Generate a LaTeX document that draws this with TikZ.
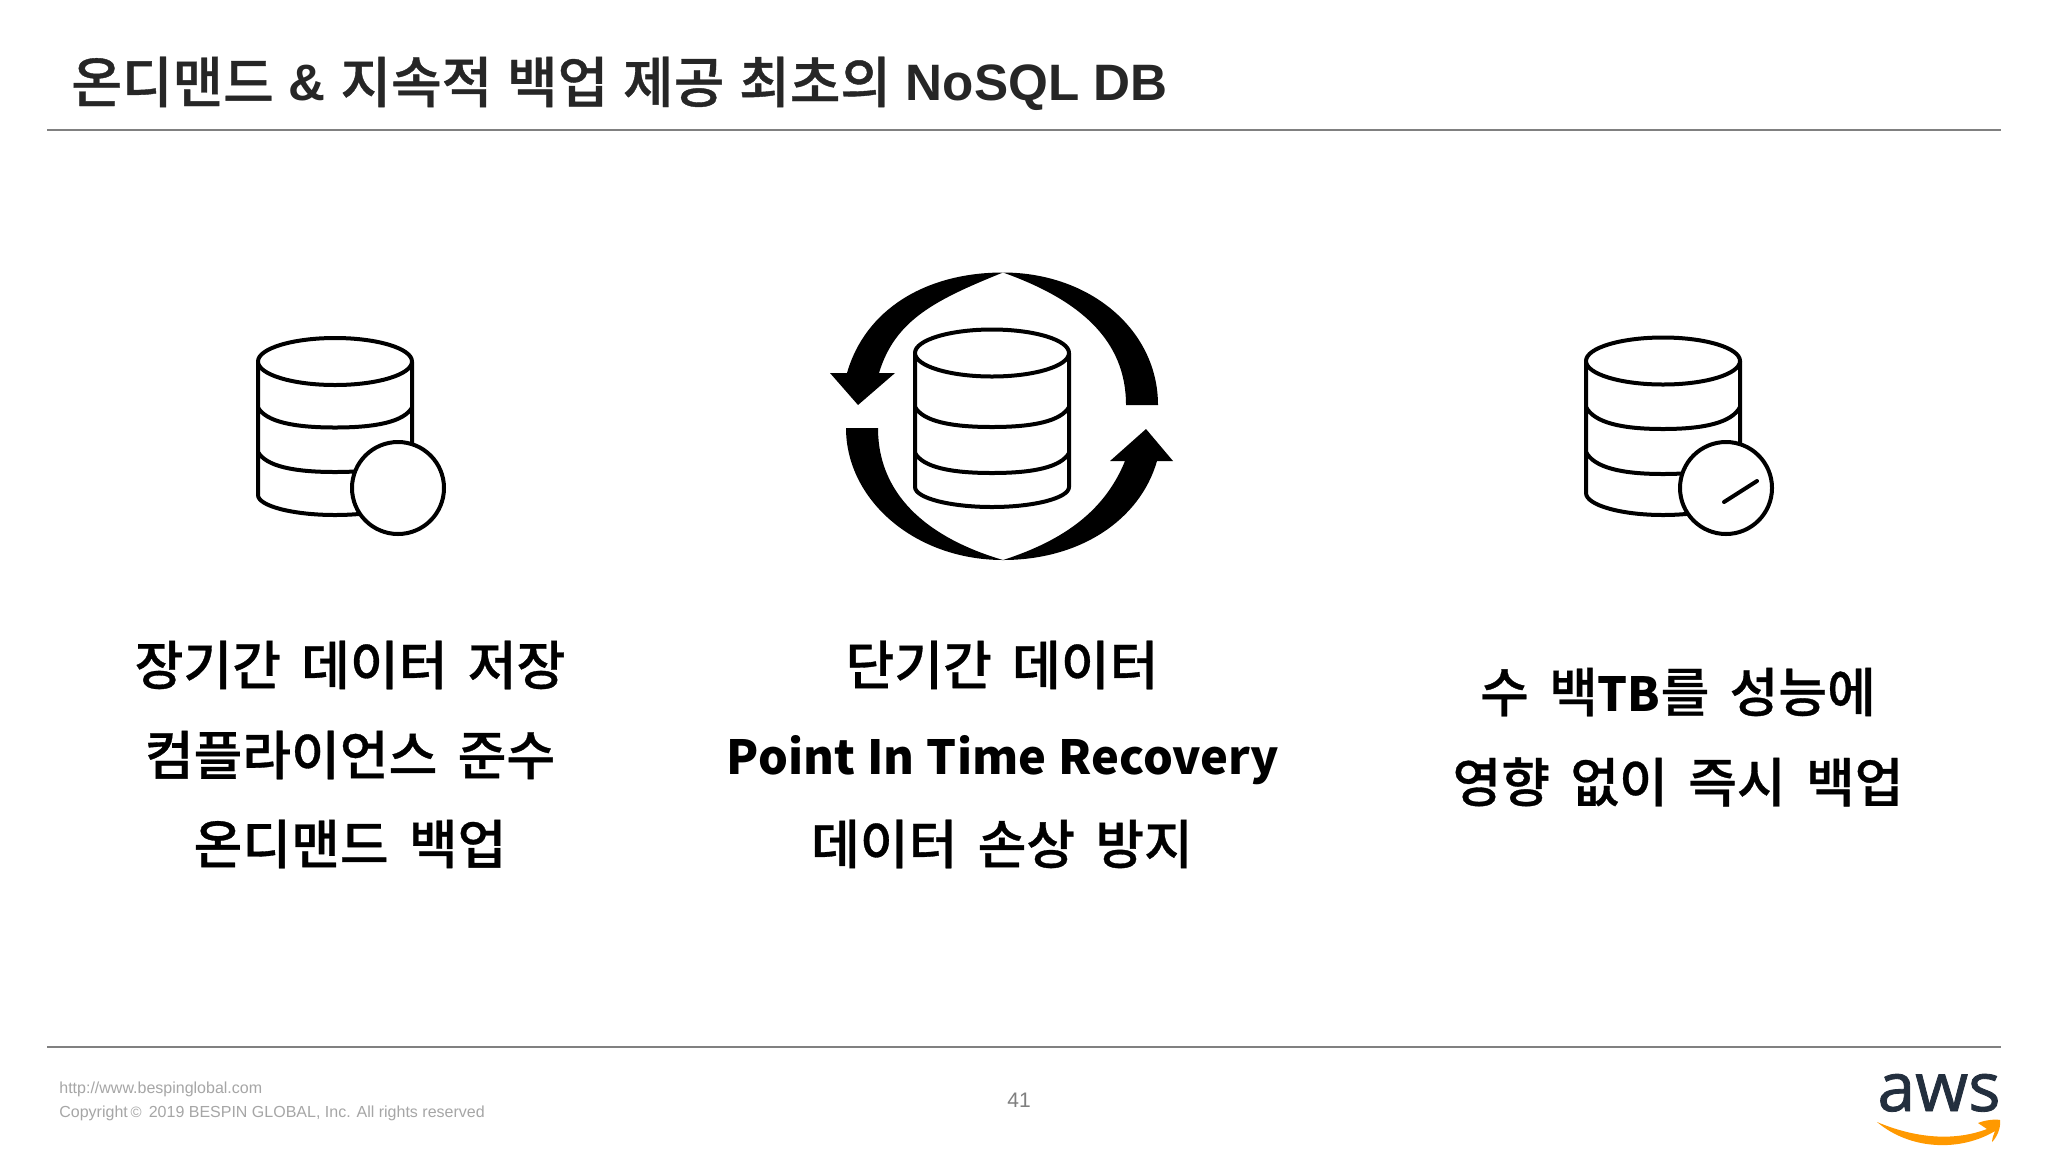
\documentclass[tikz,border=0pt]{standalone}
\usepackage{fontspec}
\setmainfont{Liberation Sans}
\newfontfamily\kr[WordSpace=1.7,FakeBold=0.6]{Noto Sans CJK KR Medium}
\newfontfamily\krb[WordSpace=1.15]{Noto Sans CJK KR}
\newfontfamily\krt[WordSpace=1.2,FakeBold=0.7]{Noto Sans CJK KR Medium}
\newfontfamily\logofont[FakeBold=1.2]{Open Sans}
\definecolor{titleink}{HTML}{262626}
\definecolor{rulegray}{HTML}{808080}
\definecolor{footgray}{HTML}{A6A6A6}
\definecolor{numgray}{HTML}{7F7F7F}
\definecolor{awsink}{HTML}{232F3E}
\definecolor{awsorange}{HTML}{FF9900}
\tikzset{
  rulef/.style={draw=rulegray,line width=0.8pt},
  iconline/.style={draw=black,line width=2pt,line join=round},
  bodytext/.style={font=\kr\fontsize{26.5}{30}\selectfont,anchor=center,inner sep=0pt,text=black},
  foot/.style={font=\fontsize{8.0}{10}\selectfont,anchor=base west,inner sep=0pt,text=footgray},
  solidblack/.style={fill=black,draw=none}
}
\newcommand{\DbBody}[6]{%
  % left x, ellipse centre y, band1 end, band2 end, base end, sag
  \begin{scope}[shift={(#1,#2)}]
    \draw[iconline] (0,0) -- (0,#5) .. controls (0,#5+0.55*#6) and (35,#5+#6) .. (77,#5+#6)
      .. controls (119,#5+#6) and (154,#5+0.55*#6) .. (154,#5) -- (154,0);
    \foreach \e in {#3,#4}{
      \draw[iconline] (0,\e) .. controls (8,\e+0.7*#6) and (35,\e+#6) .. (77,\e+#6)
        .. controls (119,\e+#6) and (146,\e+0.7*#6) .. (154,\e);
    }
    \draw[iconline,fill=white] (77,0) ellipse [x radius=77,y radius=23.5];
  \end{scope}}
\newcommand{\lat}[1]{{\krb\bfseries\fontsize{23.5}{30}\selectfont #1}}
\newcommand{\tlat}[1]{\raisebox{1.1pt}{\rmfamily\bfseries\fontsize{25.6}{30}\selectfont #1}}
\begin{document}
\begin{tikzpicture}[x=0.5pt,y=-0.5pt]
\useasboundingbox (0,0) rectangle (2048,1152);
\fill[white] (0,0) rectangle (2048,1152);
% title
\node[anchor=base west,inner sep=0pt,text=titleink,font=\krt\fontsize{27.5}{30}\selectfont] (title) at (71,102.5) {온디맨드 \tlat{\&} 지속적 백업 제공 최초의 \tlat{NoSQL DB}};
\coordinate (t1) at (47,130); \coordinate (t2) at (2001,130);
\coordinate (b1) at (47,1047); \coordinate (b2) at (2001,1047);
\draw[rulef] (t1) -- (t2);
\draw[rulef] (b1) -- (b2);
% left icon
\DbBody{258}{361.5}{46}{90.5}{133.5}{20}
\node[iconline,circle,fill=white,minimum size=46pt,inner sep=0pt] (clockA) at (398,488) {};
% right icon
\DbBody{1586}{361}{46}{91}{132}{22}
\node[iconline,circle,fill=white,minimum size=46pt,inner sep=0pt] (clockB) at (1726,488) {};
\coordinate (needleA) at (1724,502); \coordinate (needleB) at (1757,481);
\draw[iconline,line cap=round] (needleA) -- (needleB);
% centre icon
\DbBody{915}{353}{54}{100}{134}{20}
\fill[solidblack] (1003,272.5) .. controls (1090,272.5) and (1158,330) .. (1158,405) -- (1126,405)
  .. controls (1126,340) and (1080,300) .. (1003,272.5) -- cycle;
\fill[solidblack] (1003,272.5) .. controls (925,272.5) and (865,310) .. (847,373) -- (830,373) -- (858,405) -- (895,373) -- (879,373)
  .. controls (895,320) and (935,300) .. (1003,272.5) -- cycle;
\fill[solidblack] (1003,560) .. controls (915,560) and (846,500) .. (846,428) -- (878,428)
  .. controls (878,500) and (935,540) .. (1003,560) -- cycle;
\fill[solidblack] (1003,560) .. controls (1080,560) and (1140,520) .. (1157,461) -- (1173,461) -- (1146,429) -- (1110,461) -- (1125,461)
  .. controls (1105,510) and (1065,540) .. (1003,560) -- cycle;
% body text
\node[bodytext] (a1) at (350,665) {장기간 데이터 저장};
\node[bodytext] (a2) at (350,755) {컴플라이언스 준수};
\node[bodytext] (a3) at (350,844) {온디맨드 백업};
\node[bodytext] (c1) at (1002,665) {단기간 데이터};
\node[bodytext] (c2) at (1003,760) {\lat{Point In Time Recovery}};
\node[bodytext] (c3) at (1002,844) {데이터 손상 방지};
\node[bodytext] (r1) at (1678,692) {수 백\lat{TB}를 성능에};
\node[bodytext] (r2) at (1678,782) {영향 없이 즉시 백업};
% footer
\node[foot] (url) at (59,1093) {http://www.bespinglobal.com};
\node[foot] (copy) at (59,1117) {Copyright\,{\fontsize{7.5}{8}\selectfont ©}\hspace{1.4pt} 2019 BESPIN GLOBAL, Inc. All rights reserved};
\node[font=\fontsize{10.5}{12}\selectfont,text=numgray,inner sep=0pt] (page) at (1019,1100) {41};
% logo
\node[anchor=base,inner sep=0pt,text=awsink,font=\logofont\fontsize{34}{40}\selectfont] (aws) at (1939,1111) {aws};
\fill[awsorange] (1877,1122) .. controls (1910,1136) and (1950,1143) .. (1987,1129)
  -- (1978,1123) .. controls (1985,1120) and (1995,1119) .. (2000,1120)
  .. controls (2001,1128) and (1997,1137) .. (1992,1142)
  .. controls (1992,1138) and (1994,1134) .. (1995,1131)
  .. controls (1960,1152) and (1910,1150) .. (1877,1122) -- cycle;
\end{tikzpicture}
\end{document}
